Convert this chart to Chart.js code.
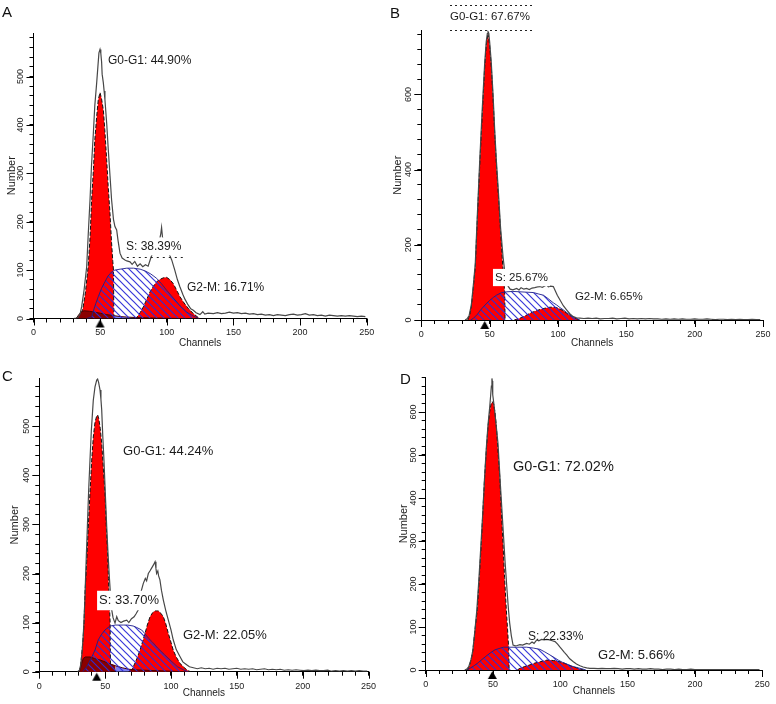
<!DOCTYPE html>
<html><head><meta charset="utf-8">
<script src="https://cdn.jsdelivr.net/npm/chart.js@4.4.1/dist/chart.umd.min.js"></script>
<style>
html,body{margin:0;padding:0;background:#fff;width:776px;height:704px;overflow:hidden}
.p{position:absolute;width:388px;height:352px}
.p canvas{position:absolute;left:0;top:0}
.lt{position:absolute;font:15px "Liberation Sans",Arial,sans-serif;color:#111;line-height:17px}
</style></head><body>
<div class="p" style="left:0;top:0"><canvas id="cA" width="388" height="352"></canvas><div class="lt" style="left:2px;top:3px">A</div></div>
<div class="p" style="left:388px;top:0"><canvas id="cB" width="388" height="352"></canvas><div class="lt" style="left:2px;top:4px">B</div></div>
<div class="p" style="left:0;top:352px"><canvas id="cC" width="388" height="352"></canvas><div class="lt" style="left:2px;top:15px">C</div></div>
<div class="p" style="left:388px;top:352px"><canvas id="cD" width="388" height="352"></canvas><div class="lt" style="left:12px;top:18px">D</div></div>
<script>
// ================= DATA (channel, count) =================
const xTickLabels = [0, 50, 100, 150, 200, 250];

// ---- Panel A ----
const A_g1 = [[34,0],[35,4],[37,20],[39,55],[41,107],[42.5,170],[43.6,245],[45,310],[46,369],[47.5,420],[48.6,452],[49.9,467],[51,455],[52.4,431],[53.5,390],[54.9,328],[56,275],[57.4,217],[58.5,160],[59.5,118],[60,100],[60.3,0]];
const A_s = [[40,0],[43.6,3],[46,25],[48.6,45],[51,62],[53.6,76],[56,88],[58.6,96],[61,100],[65,102],[70,104],[75,104],[80,102],[84,98],[88,92],[92.4,83],[96,72],[100,58],[105,42],[110,26],[115,13],[120,5],[124,0]];
const A_g2 = [[76,0],[77.4,2],[80,12],[82.4,24],[85,40],[87.4,55],[90,67],[92.4,76],[95,81],[97.4,84],[99.9,85],[102.5,80],[104.9,72],[107.5,58],[109.9,45],[113,32],[116.1,21],[120,10],[123.6,2],[125,0]];
const A_debris = [[32,0],[34,8],[36,14],[38,16],[42,15],[46,13],[50,11],[55,8],[60,6],[65,4],[70,3],[77,2],[90,1],[110,0]];
const A_raw = [[30,0],[32,1],[33.6,3],[35,10],[36.1,24],[38,60],[39.9,107],[41,170],[42.4,245],[43.5,315],[44.9,383],[46,440],[47.4,487],[48.3,520],[49.1,549],[49.9,556],[50.5,548],[51.1,530],[51.5,505],[52.4,487],[53,470],[53.6,452],[55,400],[56.1,349],[57.4,295],[58.6,245],[60,205],[61.1,190],[62.4,183],[63.5,160],[64.9,135],[66.5,125],[68.6,121],[70,119],[72.4,117],[74,112],[76,118],[78,108],[80,113],[82,107],[84,111],[86,108],[88,125],[90,140],[92,150],[94,155],[95.5,175],[96.1,188],[96.8,168],[98,150],[100,145],[102,132],[103.7,121],[106,100],[108,80],[109.9,65],[112,50],[113.6,40],[116,28],[118,20],[119.9,17],[122,12],[124.9,8],[127,14],[128.5,9],[131,11],[135,10],[138,12],[141,10],[144,11],[147,13],[150,11],[153,12],[156,10],[159,11],[162,9],[165,10],[168,8],[171,9],[174,7],[177,8],[180,6],[183,8],[186,7],[189,6],[192,8],[195,9],[198,7],[201,8],[204,10],[207,7],[210,8],[213,6],[216,7],[219,5],[222,7],[225,6],[228,5],[231,6],[234,5],[237,6],[240,5],[243,4],[246,5],[249,4]];
const A_marker = [49.9];

// ---- Panel B ----
const B_g1 = [[34,0],[35.5,15],[36.6,35],[38,85],[39.5,142],[41,270],[42.7,408],[44.5,540],[46.4,674],[47.5,730],[48.8,763],[50,730],[51.2,674],[52.5,590],[53.7,497],[55,410],[56.6,319],[58,235],[59.3,160],[60.3,110],[61,75],[61.3,0]];
const B_s = [[36,0],[38,4],[41,15],[43,25],[45.4,35],[48,45],[50,52],[52.7,60],[55,66],[58.8,73],[62.5,75],[67,76],[72.2,75],[77,74],[82,73],[86,69],[89.3,66],[92,59],[94.1,53],[96.5,46],[99,40],[101.5,33],[103.9,27],[106.3,20],[108.8,13],[111.2,8],[113.7,4],[116,0]];
const B_g2 = [[68,0],[69.8,2],[73,6],[76,11],[79.5,18],[83,23],[86.8,28],[90,31],[94.1,34],[97,34],[99,33],[101.5,29],[103.9,25],[106.3,18],[108.8,12],[111.2,7],[113.7,3],[116,0]];
const B_debris = [];
const B_raw = [[32,0],[33.5,3],[35,12],[36.6,40],[38,90],[39.5,150],[41,280],[42.7,420],[44.5,555],[46.4,685],[47.5,740],[48.3,762],[48.8,767],[49.4,762],[50,740],[51.2,685],[52.5,600],[53.7,505],[55,420],[56.6,330],[58,245],[59.8,168],[61,130],[62.2,106],[63.5,90],[65,82],[67,80],[69.8,84],[71.5,80],[73,86],[75,82],[77,84],[79,81],[81,85],[83,86],[85,88],[86.8,89],[88.5,87],[90,90],[91.7,93],[93,88],[94.5,90],[96.6,89],[98,78],[99.5,66],[101.5,53],[103.9,38],[106.3,27],[108.8,16],[111.2,9],[113.5,6],[116,5],[119,4],[122,5],[125,4],[128,5],[131,3],[134,4],[137,4],[140,5],[143,3],[146,4],[149,5],[152,3],[155,4],[158,3],[161,4],[164,3],[167,4],[170,3],[173,3],[176,2],[179,3],[182,2],[185,3],[188,2],[191,3],[194,2],[197,2],[200,3],[203,2],[206,2],[209,3],[212,2],[215,1],[218,2],[221,2],[224,1],[227,2],[230,1],[233,2],[236,1],[239,1],[242,2],[245,1],[248,1]];
const B_marker = [46.4];

// ---- Panel C ----
const C_g1 = [[30.5,0],[31.5,15],[33,58],[34,100],[34.7,160],[36,225],[37.2,295],[38.5,365],[39.8,431],[41,478],[42.3,508],[43.5,520],[44.3,523],[45.2,515],[46.3,495],[47.4,465],[48.6,415],[49.9,363],[50.8,300],[51.7,250],[52.5,190],[53.2,140],[53.8,100],[54.1,0]];
const C_s = [[33,0],[36,10],[39,25],[42.3,44],[44.8,65],[47,75],[49.9,85],[53.7,93],[58,95],[63.8,95],[67,95],[71.4,93],[74,90],[77.7,85],[80,78],[83,68],[86,60],[90,48],[95,35],[100,22],[105,10],[110,3],[113,0]];
const C_g2 = [[69.5,0],[71.4,10],[74,26],[76.5,44],[78.5,62],[80.3,78],[82,95],[84.1,112],[86,120],[87.9,124],[90.4,124],[92.3,119],[94.2,112],[96,98],[98,78],[100,60],[101.7,44],[104,30],[106.8,17],[110.6,7],[113,2],[115,0]];
const C_debris = [[30.5,0],[32,15],[33.4,27],[35,30],[38.5,30],[42,27],[46,24],[50,20],[53.6,16],[58,12],[63,8],[68,5],[72,4],[80,3],[90,2],[110,0]];
const C_raw = [[29,0],[30.5,3],[31.5,15],[32.5,40],[33.5,80],[34.5,140],[35.5,220],[36.5,295],[37.5,370],[38.5,431],[39.5,490],[41,553],[42.3,580],[43.6,594],[44.3,596],[45,590],[46.1,574],[46.8,555],[47.4,533],[48.2,480],[49.1,431],[50.1,365],[51.2,295],[52.2,240],[53.2,193],[54.1,155],[55,126],[56,110],[57.5,99],[58.8,112],[60,104],[62,100],[64,103],[66.4,105],[68,100],[70,108],[72,112],[73.5,118],[75.2,126],[76.5,150],[77.5,165],[79,180],[80.5,190],[81.5,185],[82.8,200],[84,205],[85.5,212],[86.6,217],[87.9,224],[88.6,210],[89.1,200],[90,205],[90.6,195],[91.6,187],[92.8,165],[94.2,146],[96,125],[98,105],[100,85],[101.7,65],[104,45],[106.8,31],[109,20],[111.9,14],[114,10],[117,8],[120,6],[123,8],[126,6],[129,7],[132,5],[135,7],[138,6],[141,7],[144,5],[147,6],[150,7],[153,5],[156,6],[159,5],[162,6],[165,4],[168,5],[171,6],[174,4],[177,5],[180,4],[183,5],[186,3],[189,4],[192,3],[195,4],[198,3],[201,2],[204,3],[207,2],[210,3],[213,2],[216,2],[219,3],[222,1],[225,2],[228,1],[231,2],[234,1],[237,2],[240,1],[243,2],[246,1],[249,1]];
const C_marker = [43.6];

// ---- Panel D ----
const D_g1 = [[31,0],[32.5,10],[34,28],[35.1,47],[36.5,90],[38.3,140],[39.8,215],[41.3,295],[42.5,370],[43.8,450],[45,510],[46.3,566],[47.5,600],[48.5,618],[49.5,624],[50.5,618],[51.5,598],[52.5,566],[53.8,505],[55,450],[56.2,370],[57.4,295],[58.6,215],[59.9,140],[60.8,95],[61.6,54],[62,0]];
const D_s = [[31,0],[32.9,4],[36,10],[39,17],[42.8,27],[46,35],[49,42],[51.5,47],[54.5,50],[57.7,53],[62.6,53],[70,53],[75,53],[80,51],[84.9,48],[88.5,42],[92.3,35],[95.5,29],[98.5,23],[101.5,18],[104.7,14],[108.5,9],[112.1,6],[117,2],[119,0]];
const D_g2 = [[68,0],[70,4],[73.5,8],[77.5,12],[81,16],[84.9,19],[87.5,21],[89.9,23],[92.3,23],[94.8,22],[97.3,21],[99.8,19],[102.8,16],[105.9,12],[109,8],[112.1,5],[115,2],[117.5,0]];
const D_debris = [];
const D_raw = [[29,0],[30.5,2],[32,8],[33.5,22],[35,45],[36.5,90],[38,140],[39.5,210],[41,290],[42.3,360],[43.6,440],[45,515],[46.3,570],[47.5,610],[48.3,640],[48.8,660],[49.2,678],[49.5,672],[49.8,640],[50.3,628],[51,610],[52,580],[53.7,527],[55.5,430],[57.4,333],[59,250],[60.6,178],[61.5,140],[62.4,109],[63.6,80],[64.9,58],[66.5,56],[68,57],[70,59],[72,58],[75,62],[77,60],[79,65],[80.5,62],[82.5,70],[84,68],[86,71],[88,70],[89.9,71],[92,70],[94,68],[96.1,66],[98,60],[99.8,53],[101.5,47],[103,41],[104.7,35],[107,26],[109.7,19],[112,14],[114.6,10],[117,7],[119.6,5],[122,4],[125,4],[128,3],[131,4],[134,3],[137,3],[140,4],[143,3],[146,2],[149,3],[152,3],[155,2],[158,3],[161,2],[164,2],[167,3],[170,2],[173,2],[176,1],[179,2],[182,2],[185,1],[188,2],[191,1],[194,1],[197,2],[200,1],[203,1],[206,1],[209,1],[212,1],[215,1],[218,1],[221,1],[224,1],[227,1],[230,1],[233,1],[236,1],[239,1],[242,1],[245,1],[248,1]];
const D_marker = [49.5];

// phase percentages
const A_pct = ['G0-G1: 44.90%', 'S: 38.39%', 'G2-M: 16.71%'];
const B_pct = ['G0-G1: 67.67%', 'S: 25.67%', 'G2-M: 6.65%'];
const C_pct = ['G0-G1: 44.24%', 'S: 33.70%', 'G2-M: 22.05%'];
const D_pct = ['G0-G1: 72.02%', 'S: 22.33%', 'G2-M: 5.66%'];

// ================= LAYOUT / STYLE =================
const FAM = '"Liberation Sans", Arial, sans-serif';
const W = 388, H = 352;
const panels = [
  {id:'cA', g1:A_g1, s:A_s, g2:A_g2, deb:A_debris, raw:A_raw, mk:A_marker, pct:A_pct,
   ymax:590, ystep:20, ylab:100, area:{l:33.5, r:366.7, t:33, b:318.5}, numPad:5.5, chPad:3, blue:[60,77],
   ann:[{i:0,x:55.9,y:533,s:12},{i:1,x:69.4,y:149,s:12,box:true},{i:2,x:115.1,y:64,s:12}],
   lines:[{x0:70,x1:115,y:127,dash:[2,4]}]},
  {id:'cB', g1:B_g1, s:B_s, g2:B_g2, deb:B_debris, raw:B_raw, mk:B_marker, pct:B_pct,
   ymax:770, ystep:40, ylab:200, area:{l:33.3, r:375, t:30.5, b:320}, numPad:3, chPad:3, blue:null,
   ann:[{i:0,x:21,y:807,s:11.5},{i:1,x:53.9,y:113,s:11.5,box:true},{i:2,x:112.4,y:61,s:11.5}],
   lines:[{x0:21,x1:83,y:838,dash:[2,3]},{x0:21,x1:83,y:771,dash:[2,3]}]},
  {id:'cC', g1:C_g1, s:C_s, g2:C_g2, deb:C_debris, raw:C_raw, mk:C_marker, pct:C_pct,
   ymax:598, ystep:20, ylab:100, area:{l:39.3, r:368.5, t:26.1, b:319.7}, numPad:8.5, chPad:4.7, blue:[54,70],
   ann:[{i:0,x:63.6,y:449,s:13},{i:1,x:45.4,y:145,s:13,box:true},{i:2,x:109.1,y:73,s:13}],
   lines:[]},
  {id:'cD', g1:D_g1, s:D_s, g2:D_g2, deb:D_debris, raw:D_raw, mk:D_marker, pct:D_pct,
   ymax:680, ystep:20, ylab:100, area:{l:37.7, r:374.2, t:25.6, b:318}, numPad:9, chPad:7, blue:null,
   ann:[{i:0,x:64.9,y:473,s:14.5},{i:1,x:76,y:77,s:12},{i:2,x:128.1,y:33,s:13}],
   lines:[]}
];

function makeHatch(ctx){
  const c = document.createElement('canvas'); c.width = 7; c.height = 7;
  const g = c.getContext('2d');
  g.strokeStyle = 'rgba(45,45,215,0.95)'; g.lineWidth = 1.2;
  g.beginPath();
  g.moveTo(-1,-1); g.lineTo(8,8);
  g.moveTo(-1,6); g.lineTo(1,8);
  g.moveTo(6,-1); g.lineTo(8,1);
  g.stroke();
  return ctx.createPattern(c, 'repeat');
}
function makeTriangle(){
  const c = document.createElement('canvas'); c.width = 11; c.height = 20;
  const g = c.getContext('2d');
  g.fillStyle = '#000'; g.beginPath();
  g.moveTo(5.5, 11); g.lineTo(10, 19); g.lineTo(1, 19); g.closePath(); g.fill();
  return c;
}
const pts = a => a.map(([x,y]) => ({x, y}));

const deco = {
  id: 'deco',
  afterDatasetsDraw(chart, args, o) {
    const P = o.P; const {ctx, scales:{x, y}} = chart;
    ctx.save();
    for (const L of P.lines) {
      ctx.strokeStyle = '#222'; ctx.lineWidth = 1; ctx.setLineDash(L.dash);
      const py = Math.round(y.getPixelForValue(L.y)) + 0.5;
      ctx.beginPath(); ctx.moveTo(x.getPixelForValue(L.x0), py); ctx.lineTo(x.getPixelForValue(L.x1), py); ctx.stroke();
    }
    ctx.setLineDash([]);
    for (const a of P.ann) {
      const txt = P.pct[a.i];
      ctx.font = a.s + 'px ' + FAM;
      ctx.textBaseline = 'middle'; ctx.textAlign = 'left';
      const px = x.getPixelForValue(a.x), py = y.getPixelForValue(a.y);
      if (a.box) {
        const w = ctx.measureText(txt).width;
        ctx.fillStyle = '#fff';
        ctx.fillRect(px - 2, py - a.s * 0.75, w + 4, a.s * 1.5);
      }
      ctx.fillStyle = '#1a1a1a';
      ctx.fillText(txt, px, py);
    }
    ctx.restore();
  },
  afterDraw(chart, args, o) {
    const P = o.P; const {ctx, scales:{x, y}} = chart;
    ctx.save(); ctx.strokeStyle = '#000'; ctx.lineWidth = 1; ctx.beginPath();
    for (const v of xTickLabels) {
      const px = Math.round(x.getPixelForValue(v)) + 0.5;
      ctx.moveTo(px, y.bottom); ctx.lineTo(px, y.bottom + 7);
    }
    for (let v = 0; v <= P.ymax; v += P.ylab) {
      const py = Math.round(y.getPixelForValue(v)) + 0.5;
      ctx.moveTo(x.left, py); ctx.lineTo(x.left - 7, py);
    }
    ctx.stroke(); ctx.restore();
  }
};

const tri = makeTriangle();
for (const P of panels) {
  const cv = document.getElementById(P.id);
  const ctx = cv.getContext('2d');
  const hatch = makeHatch(ctx);
  const blueSeg = c => (P.blue && c.p0.parsed.x >= P.blue[0] && c.p1.parsed.x <= P.blue[1]) ? '#7d7df2' : undefined;
  const datasets = [
    {type:'line', data:pts(P.raw), borderColor:'#474747', borderWidth:1.2, pointRadius:0, fill:false, tension:0, order:1},
    {type:'scatter', data:P.mk.map(v => ({x:v, y:0})), pointStyle:tri, pointRadius:5, clip:false, order:0},
    {type:'line', data:pts(P.s), borderColor:'rgba(30,30,140,0.9)', borderWidth:1, backgroundColor:hatch, fill:'origin', pointRadius:0, tension:0, order:2},
    {type:'line', data:pts(P.deb), borderColor:'#4a0000', borderWidth:1, backgroundColor:'#8b0000', fill:'origin', pointRadius:0, tension:0, order:3,
      segment:{backgroundColor: blueSeg}},
    {type:'line', data:pts(P.g2), borderColor:'#111', borderWidth:1, borderDash:[4,2], backgroundColor:'#ff0000', fill:'origin', pointRadius:0, tension:0, order:4},
    {type:'line', data:pts(P.g1), borderColor:'#111', borderWidth:1, borderDash:[4,2], backgroundColor:'#ff0000', fill:'origin', pointRadius:0, tension:0, order:5}
  ];
  new Chart(ctx, {
    type: 'line',
    data: {datasets},
    plugins: [deco],
    options: {
      responsive:false, animation:false, devicePixelRatio:1,
      layout:{padding:{left:0, top:P.area.t, right:W - P.area.r, bottom:0}},
      plugins:{legend:{display:false}, tooltip:{enabled:false}, deco:{P}},
      scales:{
        x:{type:'linear', min:0, max:250, offset:false,
          afterBuildTicks: s => { s.ticks = []; for (let v = 0; v <= 250; v += 10) s.ticks.push({value:v}); },
          ticks:{autoSkip:false, minRotation:0, maxRotation:0, padding:5, color:'#222', font:{size:9, family:FAM},
            callback: v => xTickLabels.includes(v) ? String(v) : ''},
          grid:{drawOnChartArea:false, drawTicks:true, tickLength:4, color:'#000', lineWidth:1},
          border:{display:true, color:'#000', width:1},
          title:{display:true, text:'Channels', color:'#222', font:{size:10, family:FAM}, padding:{top:0, bottom:P.chPad}},
          afterFit: s => { s.height = H - P.area.b; }
        },
        y:{type:'linear', min:0, max:P.ymax,
          afterBuildTicks: s => { s.ticks = []; for (let v = 0; v <= P.ymax; v += P.ystep) s.ticks.push({value:v}); },
          ticks:{autoSkip:false, minRotation:90, maxRotation:90, crossAlign:'center', padding:1, color:'#222', font:{size:9, family:FAM},
            callback: v => (v % P.ylab === 0) ? String(v) : ''},
          grid:{drawOnChartArea:false, drawTicks:true, tickLength:4, color:'#000', lineWidth:1},
          border:{display:true, color:'#000', width:1},
          title:{display:true, text:'Number', color:'#222', font:{size:11, family:FAM}, padding:{top:P.numPad, bottom:0}},
          afterFit: s => { s.width = P.area.l; }
        }
      }
    }
  });
}
</script>
</body></html>
